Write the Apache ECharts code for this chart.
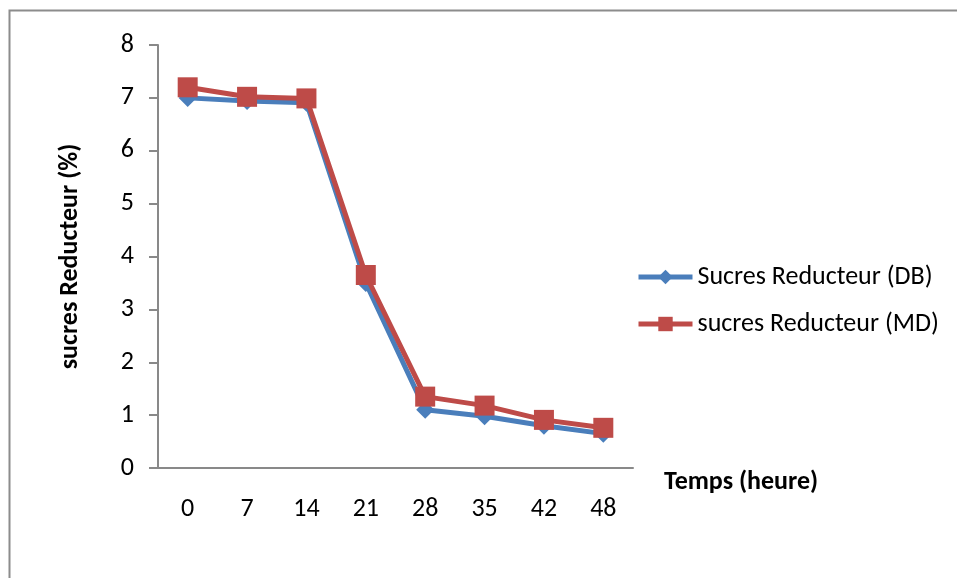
<!DOCTYPE html>
<html>
<head>
<meta charset="utf-8">
<script src="https://cdn.jsdelivr.net/npm/echarts@6/dist/echarts.min.js"></script>
<style>
  html, body { margin: 0; padding: 0; background: #fff; }
  #chart { width: 957px; height: 578px; }
</style>
</head>
<body>
<div id="chart"></div>
<script>
// temps (heure)
var hours = ['0', '7', '14', '21', '28', '35', '42', '48'];
// sucres reducteur (%)
var dbValues = [7.0, 6.94, 6.91, 3.5, 1.1, 0.98, 0.8, 0.65];
var mdValues = [7.2, 7.02, 6.99, 3.65, 1.35, 1.18, 0.91, 0.76];
var seriesNames = ['Sucres Reducteur (DB)', 'sucres Reducteur (MD)'];

var chart = echarts.init(document.getElementById('chart'));
var font = 'Carlito, Lato, sans-serif';
var axisColor = '#898989';
var fs = 26;

chart.setOption({
    animation: false,
    textStyle: { fontFamily: font },
    // cadre du graphique (seuls les bords haut et gauche sont visibles)
    graphic: [{
        type: 'rect',
        shape: { x: 9.5, y: 10.5, width: 1000, height: 1000 },
        style: { fill: 'none', stroke: '#8c8c8c', lineWidth: 2 },
        silent: true
    }],
    grid: { left: 158, right: 324, top: 45, bottom: 110 },
    legend: {
        orient: 'vertical',
        left: 636,
        top: 264,
        padding: 0,
        itemWidth: 54,
        itemHeight: 18,
        itemGap: 21,
        lineStyle: { width: 5 },
        textStyle: { fontFamily: font, fontSize: fs, color: '#000' },
        data: seriesNames
    },
    xAxis: {
        type: 'category',
        data: hours,
        boundaryGap: true,
        name: 'Temps (heure)',
        nameLocation: 'end',
        nameGap: 31,
        nameTextStyle: {
            fontFamily: font, fontSize: fs, fontWeight: 'bold', color: '#000',
            verticalAlign: 'top', padding: [1, 0, 0, 0]
        },
        axisLine: { lineStyle: { color: axisColor, width: 2 } },
        axisTick: { show: false },
        axisLabel: { fontFamily: font, fontSize: fs, color: '#000', margin: 28 },
        splitLine: { show: false }
    },
    yAxis: {
        type: 'value',
        min: 0,
        max: 8,
        interval: 1,
        name: 'sucres Reducteur (%)',
        nameLocation: 'middle',
        nameRotate: 90,
        nameGap: 75,
        nameTextStyle: { fontFamily: font, fontSize: fs, fontWeight: 'bold', color: '#000' },
        axisLine: { show: true, lineStyle: { color: axisColor, width: 2 } },
        axisTick: { show: true, length: 9, lineStyle: { color: axisColor, width: 2 } },
        axisLabel: { fontFamily: font, fontSize: fs, color: '#000', margin: 24 },
        splitLine: { show: false }
    },
    series: [{
        name: seriesNames[0],
        type: 'line',
        data: dbValues,
        symbol: 'diamond',
        symbolSize: 18,
        color: '#4a7ebb',
        lineStyle: { width: 5, color: '#4a7ebb' },
        itemStyle: { color: '#4a7ebb' },
        z: 2
    }, {
        name: seriesNames[1],
        type: 'line',
        data: mdValues,
        symbol: 'rect',
        symbolSize: 20,
        color: '#be4b48',
        lineStyle: { width: 5, color: '#be4b48' },
        itemStyle: { color: '#be4b48' },
        z: 3
    }]
});
</script>
</body>
</html>
